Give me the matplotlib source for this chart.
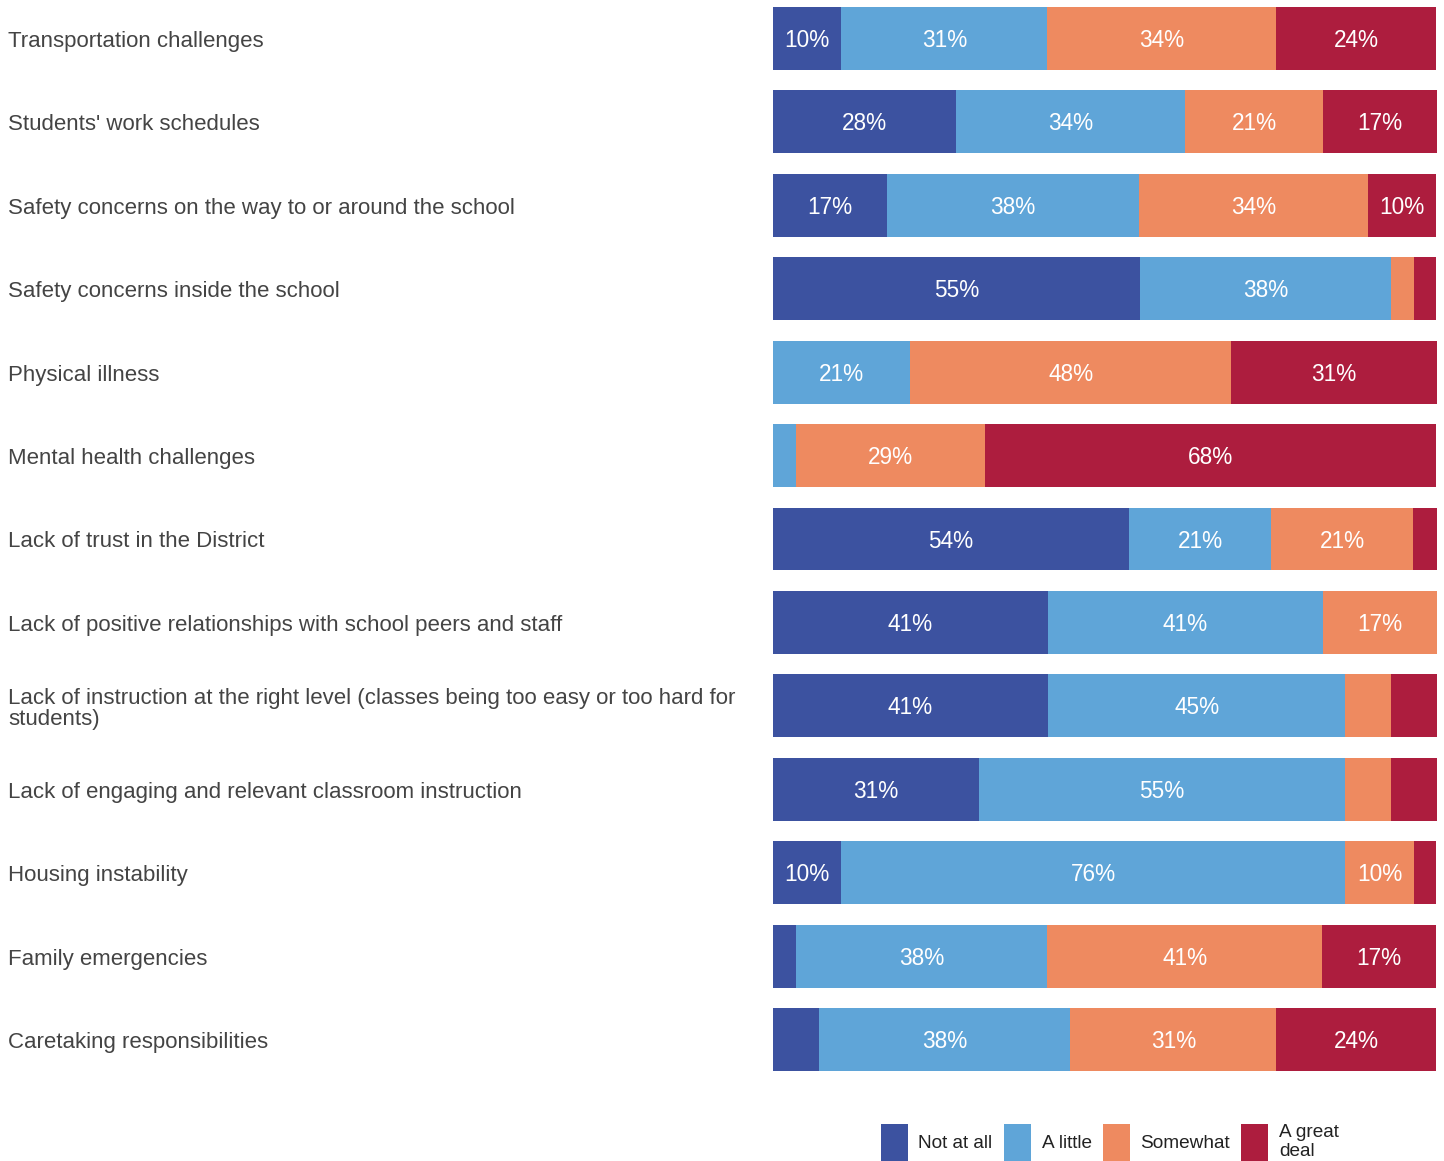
import matplotlib
matplotlib.use("Agg")
import matplotlib.pyplot as plt
from matplotlib.patches import Patch
from matplotlib.transforms import blended_transform_factory

plt.rcParams['font.family'] = ['Liberation Sans', 'DejaVu Sans']

categories = [
    "Transportation challenges",
    "Students' work schedules",
    "Safety concerns on the way to or around the school",
    "Safety concerns inside the school",
    "Physical illness",
    "Mental health challenges",
    "Lack of trust in the District",
    "Lack of positive relationships with school peers and staff",
    "Lack of instruction at the right level (classes being too easy or too hard for\nstudents)",
    "Lack of engaging and relevant classroom instruction",
    "Housing instability",
    "Family emergencies",
    "Caretaking responsibilities",
]
series_names = ["Not at all", "A little", "Somewhat", "A great\ndeal"]
not_at_all = [10.3, 27.6, 17.2, 55.2, 0.0, 0.0, 53.6, 41.4, 41.4, 31.0, 10.3, 3.4, 6.9]
a_little   = [31.0, 34.5, 37.9, 37.9, 20.7, 3.4, 21.4, 41.4, 44.8, 55.2, 75.9, 37.9, 37.9]
somewhat   = [34.5, 20.7, 34.5, 3.4, 48.3, 28.6, 21.4, 17.2, 6.9, 6.9, 10.3, 41.4, 31.0]
great_deal = [24.1, 17.2, 10.3, 3.4, 31.0, 67.9, 3.6, 0.0, 6.9, 6.9, 3.4, 17.2, 24.1]
series = [not_at_all, a_little, somewhat, great_deal]
colors = ["#3C52A0", "#5FA5D8", "#EE8A60", "#AD1D3E"]

W, H = 1444, 1161
fig = plt.figure(figsize=(W / 100, H / 100), dpi=100)
ax = fig.add_axes([773 / W, 1 - 1071 / H, (1437 - 773) / W, (1071 - 7) / H])

n = len(categories)
ypos = list(range(n))
bh = 0.755
left = [0.0] * n
for vals, col in zip(series, colors):
    ax.barh(ypos, vals, left=left, height=bh, color=col, edgecolor='none')
    for i, v in enumerate(vals):
        if v >= 9.5:
            ax.text(left[i] + v / 2, i + 0.025, f"{round(v)}%", ha='center', va='center',
                    color='white', fontsize=16.3)
    left = [l + v for l, v in zip(left, vals)]

ax.set_xlim(0, 100)
ax.set_ylim(n - 1 + bh / 2, -bh / 2)
ax.axis('off')

trans = blended_transform_factory(fig.transFigure, ax.transData)
for i, c in enumerate(categories):
    ax.text(8 / W, i + 0.035, c, transform=trans, ha='left', va='center',
            color='#444444', fontsize=16, linespacing=1.0)

handles = [Patch(facecolor=c, edgecolor='none') for c in colors]
leg = fig.legend(handles, series_names, ncol=4, loc='lower left',
                 bbox_to_anchor=(881 / W, 0.0), frameon=False,
                 fontsize=13.7, handlelength=1.42, handleheight=2.6,
                 handletextpad=0.55, columnspacing=0.6, borderpad=0.0,
                 borderaxespad=0.0, labelspacing=0)
for t in leg.get_texts():
    t.set_color('#222222')
    t.set_linespacing(1.12)

fig.savefig("out.png", dpi=100, facecolor='white')
